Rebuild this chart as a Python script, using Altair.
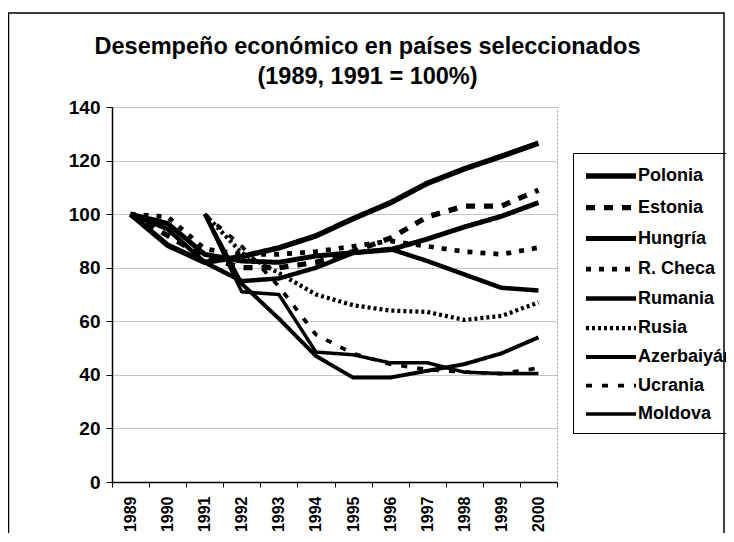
import altair as alt
import pandas as pd

years = ["1989", "1990", "1991", "1992", "1993", "1994",
         "1995", "1996", "1997", "1998", "1999", "2000"]

paises = ["Polonia", "Estonia", "Hungría", "R. Checa", "Rumania",
          "Rusia", "Azerbaiyán", "Ucrania", "Moldova"]

polonia = [100, 88.4, 82.0, 84.2, 87.4, 91.9, 98.3, 104.2, 111.5, 116.9, 121.6, 126.5]
estonia = [100, 92, 84, 80, 80, 82, 86, 91, 99, 103, 103, 109]
hungria = [100, 96.5, 85, 82.5, 82, 84.4, 85.6, 86.7, 90.7, 95.2, 99.2, 104.3]
rchecha = [100, 99, 87, 85, 85, 86, 88, 90, 88, 86, 85, 87.5]
rumania = [100, 94.4, 82, 75, 76, 80, 85.5, 87, 82.5, 77.5, 72.5, 71.5]
rusia = [None, None, 100, 85.5, 78, 70, 66, 64, 63.5, 60.5, 62, 67]
azerbaiyan = [None, None, 100, 74, 61, 47, 39, 39, 41.5, 44, 48, 54]
ucrania = [None, None, 100, 88, 73, 55, 48, 44, 42, 41, 40.5, 42.5]
moldova = [None, None, 100, 71, 70, 48.5, 47.5, 44.5, 44.5, 41, 40.5, 40.5]

series = [polonia, estonia, hungria, rchecha, rumania, rusia, azerbaiyan, ucrania, moldova]

dashes = [[1, 0], [9, 9], [1, 0], [5, 8], [1, 0], [3, 3], [1, 0], [6, 10], [1, 0]]
widths = [5.5, 3.5, 3, 3.5, 1.3, 2.2, 1.3, 1.3, 1.3]

rows = []
for p, vals in zip(paises, series):
    for y, v in zip(years, vals):
        if v is not None:
            rows.append({"pais": p, "anio": y, "valor": v})
df = pd.DataFrame(rows)

FONT = "Liberation Sans"

lines = alt.Chart(df).mark_line(color="black", strokeJoin="round").encode(
    x=alt.X("anio:O", sort=years, bandPosition=0.5,
            scale=alt.Scale(type="band", domain=years, paddingInner=0, paddingOuter=0),
            axis=alt.Axis(title=None, labelAngle=270, tickBand="extent",
                          labelFont=FONT, labelFontWeight="bold", labelFontSize=16,
                          labelColor="black", labelPadding=9, tickSize=5,
                          tickColor="black", domainColor="black", domainWidth=1.5,
                          grid=False)),
    y=alt.Y("valor:Q", scale=alt.Scale(domain=[0, 140], nice=False),
            axis=alt.Axis(title=None, values=[0, 20, 40, 60, 80, 100, 120, 140],
                          labelFont=FONT, labelFontWeight="bold", labelFontSize=19,
                          labelColor="black", labelPadding=6, tickSize=6,
                          tickColor="black", domainColor="black", domainWidth=1.5,
                          grid=True, gridColor="#c4c4c4", gridWidth=1.2)),
    strokeDash=alt.StrokeDash(
        "pais:N", sort=paises,
        scale=alt.Scale(domain=paises, range=dashes),
        legend=alt.Legend(
            title=None,
            symbolStrokeWidth=alt.ExprRef("scale('strokeWidth', datum.value)"),
        ),
    ),
    strokeWidth=alt.StrokeWidth("pais:N", sort=paises,
                                scale=alt.Scale(domain=paises, range=widths),
                                legend=None),
)

frame = alt.Chart(pd.DataFrame({"k": [0]})).mark_rect(
    fillOpacity=0, stroke="black", strokeWidth=1.5
).encode(
    x=alt.value(-103.5), x2=alt.value(612), y=alt.value(-94), y2=alt.value(440)
)

chart = alt.layer(frame, lines).properties(
    width=445,
    height=375,
    autosize=alt.AutoSizeParams(type="none"),
    padding={"left": 104, "top": 99, "right": 169, "bottom": 51},
    title=alt.TitleParams(
        ["Desempeño económico en países seleccionados", "(1989, 1991 = 100%)"],
        font=FONT, fontSize=23.5, fontWeight="bold", color="black",
        anchor="middle", dx=33, offset=-100, lineHeight=30, baseline="bottom",
    ),
).configure_view(
    stroke="#999999", strokeDash=[2, 2]
).configure_legend(
    orient="none", legendX=461, legendY=46,
    symbolType="M-1,0H4", symbolSize=400, symbolStrokeColor="black",
    labelFont=FONT, labelFontWeight="bold", labelFontSize=18, labelColor="black",
    labelOffset=29, rowPadding=7.5, padding=10,
    strokeColor="black",
)

chart.save("out.html", embed_options={"renderer": "svg", "actions": False})
